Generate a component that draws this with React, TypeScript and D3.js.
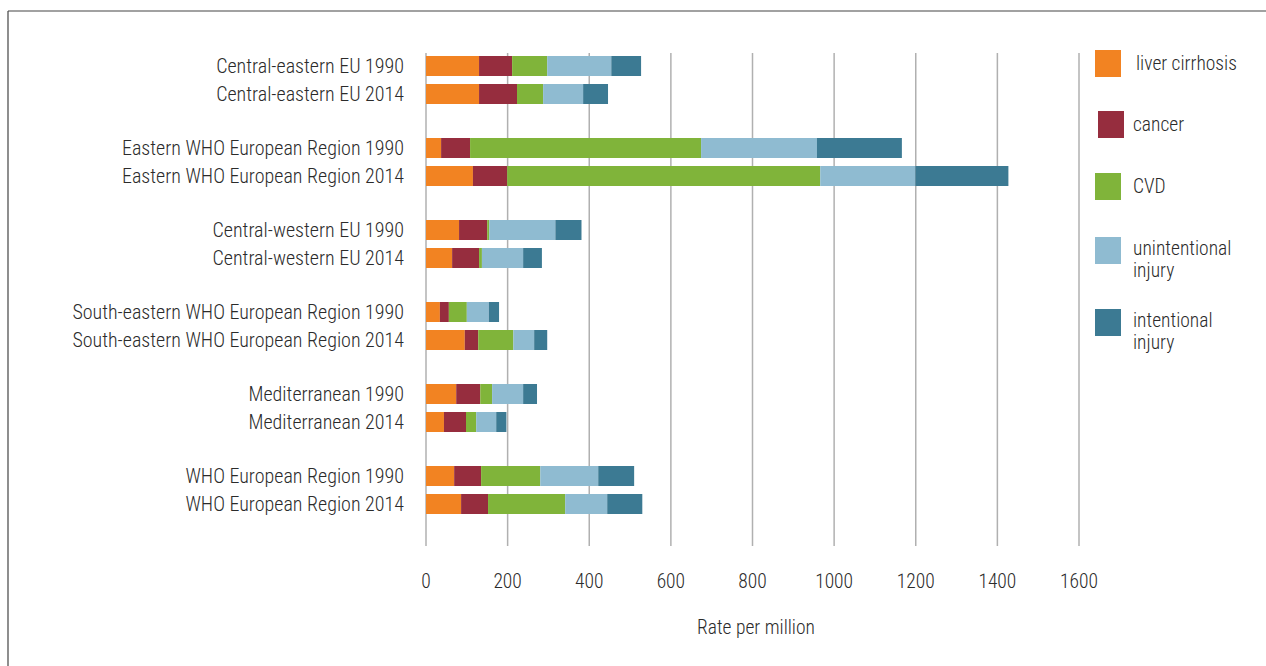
import { scaleBand, scaleLinear, stack } from "d3";

// categories (top to bottom)
const regions = [
  "Central-eastern EU",
  "Eastern WHO European Region",
  "Central-western EU",
  "South-eastern WHO European Region",
  "Mediterranean",
  "WHO European Region",
];
const years = ["1990", "2014"];

const causes = ["liver cirrhosis", "cancer", "CVD", "unintentional injury", "intentional injury"];
const colors = ["#F28322", "#962D3E", "#80B43A", "#8FBBD1", "#3C7A93"];

// rate per million, one entry per region/year row
const liverCirrhosis = [130, 130, 37, 115, 81, 64, 34, 95, 74, 44, 69, 86];
const cancer = [81, 93, 71, 84, 69, 66, 22, 33, 59, 54, 66, 66];
const cvd = [86, 64, 566, 767, 5, 7, 44, 86, 29, 25, 145, 189];
const unintentionalInjury = [157, 98, 284, 233, 162, 101, 54, 51, 76, 49, 142, 103];
const intentionalInjury = [73, 61, 208, 228, 64, 46, 25, 32, 34, 25, 88, 86];

const xTicks = [0, 200, 400, 600, 800, 1000, 1200, 1400, 1600];

const W = 1266;
const H = 666;
const FONT = "'Liberation Sans Narrow', 'Roboto Condensed', 'Arial Narrow', Roboto, sans-serif";
const TEXT = "#2b2b2b";
const FS = 19.5;

const rows = regions.flatMap((region, gi) =>
  years.map((year, yi) => {
    const i = gi * 2 + yi;
    return {
      region,
      year,
      "liver cirrhosis": liverCirrhosis[i],
      cancer: cancer[i],
      CVD: cvd[i],
      "unintentional injury": unintentionalInjury[i],
      "intentional injury": intentionalInjury[i],
    };
  })
);

const legendLines = [["liver cirrhosis"], ["cancer"], ["CVD"], ["unintentional", "injury"], ["intentional", "injury"]];
const legendY = [50, 111, 173, 237, 309];

export default function App() {
  const x = scaleLinear().domain([0, 1600]).range([426, 1079]);
  const yGroup = scaleBand().domain(regions).range([56, 514]).paddingInner(34 / 82).paddingOuter(0);
  const yYear = scaleBand().domain(years).range([0, yGroup.bandwidth()]).paddingInner(8 / 28);

  const series = stack<any>().keys(causes)(rows);
  const rowY = (d: any) => (yGroup(d.region) ?? 0) + (yYear(d.year) ?? 0);
  const bh = yYear.bandwidth();

  return (
    <svg
      width={W}
      height={H}
      style={{ position: "absolute", left: 0, top: 0, background: "#fff" }}
      fontFamily={FONT}
      fontWeight={300}
    >
      {/* frame */}
      <line x1={8} x2={W} y1={11} y2={11} stroke="#444" strokeWidth={1.2} />
      <line x1={8} x2={8} y1={11} y2={H} stroke="#444" strokeWidth={1.2} />

      {/* grid */}
      {xTicks.map((t) => (
        <line key={t} x1={x(t)} x2={x(t)} y1={53} y2={546} stroke="#b0b0b0" strokeWidth={1.5} />
      ))}

      {/* bars */}
      {series.map((s, si) => (
        <g key={s.key} fill={colors[si]}>
          {s.map((d, i) => (
            <rect
              key={i}
              x={x(d[0])}
              width={Math.max(0, x(d[1]) - x(d[0]))}
              y={rowY(d.data)}
              height={bh}
            />
          ))}
        </g>
      ))}

      {/* category labels */}
      {rows.map((d, i) => (
        <text
          key={i}
          x={404}
          y={rowY(d) + bh / 2}
          dy="0.35em"
          textAnchor="end"
          fontSize={20}
          fill={TEXT}
        >
          {d.region} {d.year}
        </text>
      ))}

      {/* x tick labels */}
      {xTicks.map((t) => (
        <text key={t} x={x(t)} y={581} dy="0.35em" textAnchor="middle" fontSize={FS} fill={TEXT}>
          {t}
        </text>
      ))}
      <text x={756} y={627} dy="0.35em" textAnchor="middle" fontSize={FS} fill={TEXT}>
        Rate per million
      </text>

      {/* legend */}
      {causes.map((c, i) => (
        <g key={c}>
          <rect x={i === 1 ? 1098 : 1095} y={legendY[i]} width={26} height={27} fill={colors[i]} />
          {legendLines[i].map((line, li) => (
            <text
              key={li}
              x={i === 0 ? 1136 : 1133}
              y={legendY[i] + (legendLines[i].length === 1 ? 13 : 11 + li * 22)}
              dy="0.35em"
              fontSize={FS}
              fill={TEXT}
            >
              {line}
            </text>
          ))}
        </g>
      ))}
    </svg>
  );
}
